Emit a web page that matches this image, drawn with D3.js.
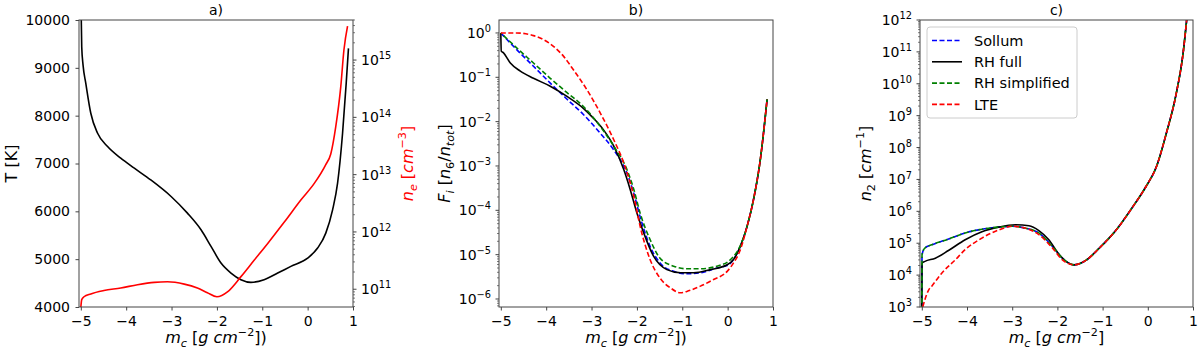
<!DOCTYPE html>
<html>
<head>
<meta charset="utf-8">
<script src="https://cdn.jsdelivr.net/npm/d3@7"></script>
<style>
body { margin: 0; background: #fff; }
text { font-family: "DejaVu Sans", sans-serif; fill: #000; }
</style>
</head>
<body>
<svg id="fig" width="1200" height="355"></svg>
<script>
// ---- panel a) temperature and electron density ----
const mcT = [-5.0, -4.98, -4.95, -4.89, -4.78, -4.63, -4.41, -4.12, -3.82, -3.46, -3.01, -2.65, -2.35, -2.13, -1.91, -1.69, -1.47, -1.25, -0.96, -0.66, -0.37, 0.0, 0.22, 0.40, 0.55, 0.66, 0.77, 0.85, 0.90];
const tempK = [10600, 9443, 9050, 8676, 8050, 7633, 7354, 7111, 6902, 6658, 6310, 5962, 5614, 5267, 4919, 4710, 4571, 4515, 4571, 4710, 4849, 5023, 5232, 5545, 6032, 6589, 7633, 8676, 9407];
const mcNe = [-5.0, -4.98, -4.93, -4.78, -4.49, -4.12, -3.75, -3.38, -3.09, -2.72, -2.43, -2.21, -2.0, -1.76, -1.47, -1.18, -0.88, -0.51, -0.15, 0.15, 0.40, 0.51, 0.62, 0.73, 0.80, 0.88];
const neDens = [4.8e10, 6.6e10, 7.4e10, 8.3e10, 9.5e10, 1.05e11, 1.2e11, 1.32e11, 1.35e11, 1.23e11, 1.05e11, 8.7e10, 7.4e10, 9.1e10, 1.66e11, 3.2e11, 6.3e11, 1.5e12, 3.6e12, 7.1e12, 1.5e13, 2.3e13, 6.9e13, 3.4e14, 1.5e15, 3.9e15];

// ---- panel b) ionisation fraction n6/ntot ----
const mcB_tail = [0.43, 0.57, 0.72, 0.87];
const fracTail = [4.4e-5, 1.74e-4, 1.38e-3, 3.2e-2];
const mcB_sollum = [-5.0, -4.65, -4.28, -3.91, -3.54, -3.18, -2.81, -2.51, -2.22, -2.07, -1.93, -1.71, -1.49, -1.19, -0.90, -0.60, -0.24, 0.02, 0.13, 0.28];
const fracSollum = [1.0, 0.42, 0.178, 0.074, 0.032, 0.0145, 0.0055, 0.0023, 6.9e-4, 2.45e-4, 7.2e-5, 1.55e-5, 6.5e-6, 4.2e-6, 3.7e-6, 3.9e-6, 5.0e-6, 5.9e-6, 7.8e-6, 1.55e-5];
const mcB_full = [-5.0, -4.99, -4.94, -4.79, -4.57, -4.28, -3.91, -3.54, -3.18, -2.96, -2.74, -2.51, -2.29, -2.15, -2.0, -1.85, -1.63, -1.34, -1.04, -0.75, -0.38, -0.01, 0.13, 0.28];
const fracFull = [1.0, 0.39, 0.355, 0.21, 0.138, 0.095, 0.063, 0.037, 0.020, 0.012, 0.0066, 0.0028, 8.3e-4, 3.0e-4, 8.7e-5, 3.1e-5, 9.1e-6, 4.6e-6, 3.9e-6, 3.9e-6, 4.6e-6, 5.9e-6, 7.8e-6, 1.55e-5];
const mcB_simp = [-5.0, -4.65, -4.28, -3.91, -3.54, -3.18, -2.81, -2.51, -2.22, -2.07, -1.93, -1.71, -1.49, -1.19, -0.90, -0.60, -0.24, 0.02, 0.13, 0.28];
const fracSimp = [1.0, 0.46, 0.21, 0.095, 0.045, 0.022, 0.0078, 0.0028, 8.3e-4, 3.0e-4, 8.7e-5, 2.2e-5, 8.3e-6, 5.5e-6, 4.8e-6, 4.8e-6, 5.5e-6, 7.1e-6, 9.1e-6, 1.6e-5];
const mcB_lte = [-5.0, -4.65, -4.28, -4.06, -3.84, -3.62, -3.40, -3.10, -2.81, -2.51, -2.29, -2.07, -1.93, -1.71, -1.49, -1.26, -1.04, -0.90, -0.60, -0.31, -0.01, 0.13, 0.28];
const fracLte = [1.0, 1.0, 0.87, 0.71, 0.50, 0.30, 0.148, 0.052, 0.0158, 0.0039, 0.00117, 2.1e-4, 4.4e-5, 7.8e-6, 2.95e-6, 1.78e-6, 1.38e-6, 1.48e-6, 1.95e-6, 2.75e-6, 4.2e-6, 6.5e-6, 1.29e-5];

// ---- panel c) n2 population ----
const mcC_tail = [-1.63, -1.37, -1.07, -0.70, -0.33, -0.04, 0.19, 0.41, 0.63, 0.78, 0.86, 0.93];
const n2Tail = [2.1e4, 2.9e4, 7.1e4, 2.6e5, 1.4e6, 6.0e6, 2.5e7, 2.8e8, 5.0e9, 8.9e10, 1.0e12, 1.0e13];
const mcC_sollum = [-5.0, -4.995, -4.93, -4.78, -4.41, -4.04, -3.67, -3.30, -3.0, -2.70, -2.41, -2.11, -1.89];
const n2Sollum = [1.0e3, 4.4e4, 7.1e4, 8.9e4, 1.35e5, 2.1e5, 2.75e5, 3.2e5, 3.4e5, 2.95e5, 2.1e5, 7.9e4, 3.4e4];
const mcC_full = [-5.0, -4.995, -4.93, -4.70, -4.41, -4.04, -3.67, -3.30, -2.93, -2.63, -2.41, -2.19, -1.96, -1.81];
const n2Full = [1.0e3, 2.4e4, 2.7e4, 3.4e4, 5.9e4, 1.29e5, 2.3e5, 3.2e5, 3.8e5, 3.55e5, 2.5e5, 1.29e5, 4.4e4, 2.7e4];
const mcC_simp = [-5.0, -4.995, -4.93, -4.78, -4.41, -4.04, -3.67, -3.30, -3.0, -2.70, -2.41, -2.11, -1.89];
const n2Simp = [1.0e3, 4.4e4, 7.1e4, 8.9e4, 1.35e5, 2.1e5, 2.75e5, 3.2e5, 3.4e5, 2.95e5, 2.1e5, 7.9e4, 3.4e4];
const mcC_lte = [-4.98, -4.85, -4.78, -4.56, -4.26, -4.04, -3.67, -3.30, -3.0, -2.70, -2.41, -2.11, -1.89];
const n2Lte = [1.0e3, 3.4e3, 4.5e3, 1.15e4, 3.0e4, 6.3e4, 1.45e5, 2.6e5, 3.4e5, 2.95e5, 1.86e5, 7.1e4, 3.0e4];

const legendNames = ["Sollum", "RH full", "RH simplified", "LTE"];
const legendColors = ["#0000ff", "#000000", "#008000", "#ff0000"];
const xTicks = [-5, -4, -3, -2, -1, 0, 1];
const tTicks = [4000, 5000, 6000, 7000, 8000, 9000, 10000];

const plotTop = 20, plotBottom = 307;
const spine = "#444";
const minus = s => String(s).replace("-", "\u2212");

const svg = d3.select("#fig");

function math(el, parts, size) {
    let shift = 0;
    parts.forEach(function(p) {
        const t = p[0], kind = p[1];
        let target = 0, fs = size;
        if (kind.includes("sub")) { target = size * 0.25; fs = size * 0.7; }
        if (kind.includes("sup")) { target = -size * 0.42; fs = size * 0.7; }
        const ts = el.append("tspan").text(t).attr("font-size", fs);
        if (target - shift != 0) ts.attr("dy", target - shift);
        shift = target;
        if (kind[0] == "i") ts.attr("font-style", "italic");
    });
}

function pair(xs, ys) { return xs.map((v, i) => [v, ys[i]]); }

function drawLine(g, data, x, y, color, dashed, offset) {
    const line = d3.line().x(d => x(d[0])).y(d => y(d[1])).curve(d3.curveMonotoneX);
    const p = g.append("path").datum(data)
        .attr("d", line)
        .attr("fill", "none")
        .attr("stroke", color)
        .attr("stroke-width", 1.6);
    if (dashed) p.attr("stroke-dasharray", "5,2.5").attr("stroke-dashoffset", offset || 0);
}

function xAxis(g, x) {
    const ax = g.append("g").attr("transform", "translate(0," + plotBottom + ")")
        .call(d3.axisBottom(x).tickValues(xTicks).tickSize(3.5).tickPadding(6).tickFormat(d => minus(d)));
    ax.select(".domain").remove();
    ax.selectAll("line").attr("stroke", spine);
    ax.selectAll("text").attr("font-size", 14).attr("font-family", "DejaVu Sans");
}

function logAxis(g, y, xpos, side) {
    const lo = y.domain()[0], hi = y.domain()[1];
    const e0 = Math.ceil(Math.log10(lo) - 1e-9), e1 = Math.floor(Math.log10(hi) + 1e-9);
    const majors = d3.range(e0, e1 + 1);
    const minors = [];
    for (let e = e0 - 1; e <= e1; e++) {
        for (let k = 2; k < 10; k++) {
            const v = k * Math.pow(10, e);
            if (v >= lo && v <= hi) minors.push(v);
        }
    }
    const dir = side == "left" ? -1 : 1;
    const ax = g.append("g");
    ax.selectAll(".maj").data(majors).enter().append("line")
        .attr("x1", xpos).attr("x2", xpos + dir * 3.5)
        .attr("y1", d => y(Math.pow(10, d))).attr("y2", d => y(Math.pow(10, d)))
        .attr("stroke", spine);
    ax.selectAll(".min").data(minors).enter().append("line")
        .attr("x1", xpos).attr("x2", xpos + dir * 2)
        .attr("y1", d => y(d)).attr("y2", d => y(d))
        .attr("stroke", spine).attr("stroke-width", 0.7);
    majors.forEach(function(e) {
        const t = ax.append("text")
            .attr("x", xpos + dir * 8)
            .attr("y", y(Math.pow(10, e)))
            .attr("dy", "0.36em")
            .attr("font-size", 14)
            .attr("text-anchor", side == "left" ? "end" : "start");
        math(t, [["10", "r"], [minus(e), "rsup"]], 14);
    });
}

function frame(g, x) {
    g.append("rect")
        .attr("x", x.range()[0]).attr("y", plotTop)
        .attr("width", x.range()[1] - x.range()[0]).attr("height", plotBottom - plotTop)
        .attr("fill", "none").attr("stroke", spine).attr("stroke-width", 1);
}

function clip(id, x) {
    svg.append("clipPath").attr("id", id).append("rect")
        .attr("x", x.range()[0]).attr("y", plotTop)
        .attr("width", x.range()[1] - x.range()[0]).attr("height", plotBottom - plotTop);
}

function title(x, txt) {
    svg.append("text").attr("x", (x.range()[0] + x.range()[1]) / 2).attr("y", 15)
        .attr("text-anchor", "middle").attr("font-size", 14).text(txt);
}

function xLabel(x, paren) {
    const t = svg.append("text").attr("x", (x.range()[0] + x.range()[1]) / 2).attr("y", 343)
        .attr("text-anchor", "middle").attr("font-size", 16);
    math(t, [["m", "i"], ["c", "isub"], [" [", "r"], ["g cm", "i"], ["\u22122", "rsup"], [paren ? "])" : "]", "r"]], 16);
}

function yLabel(xpos, parts, color) {
    const t = svg.append("text")
        .attr("transform", "translate(" + xpos + "," + ((plotTop + plotBottom) / 2) + ") rotate(-90)")
        .attr("text-anchor", "middle").attr("font-size", 16);
    t.style("fill", color);
    math(t, parts, 16);
}

// ---------- panel a ----------
const xa = d3.scaleLinear().domain([-5.04, 1]).range([79, 353]);
const ya = d3.scaleLinear().domain([4000, 10000]).range([plotBottom, plotTop]);
const yaR = d3.scaleLog().domain([4.9e10, 5.0e15]).range([plotBottom, plotTop]);
clip("clipA", xa);
const ga = svg.append("g");
const gaLines = ga.append("g").attr("clip-path", "url(#clipA)");
drawLine(gaLines, pair(mcT, tempK), xa, ya, "#000", false);
drawLine(gaLines, pair(mcNe, neDens), xa, yaR, "#ff0000", false);
frame(ga, xa);
xAxis(ga, xa);
const axA = ga.append("g").attr("transform", "translate(79,0)")
    .call(d3.axisLeft(ya).tickValues(tTicks).tickSize(3.5).tickPadding(5.5).tickFormat(d3.format("d")));
axA.select(".domain").remove();
axA.selectAll("line").attr("stroke", spine);
axA.selectAll("text").attr("font-size", 14).attr("font-family", "DejaVu Sans");
logAxis(ga, yaR, 353, "right");
title(xa, "a)");
xLabel(xa, true);
yLabel(17, [["T [K]", "r"]], "#000");
yLabel(413, [["n", "i"], ["e", "isub"], [" [", "r"], ["cm", "i"], ["\u22123", "rsup"], ["]", "r"]], "#ff0000");

// ---------- panel b ----------
const xb = d3.scaleLinear().domain([-5.04, 1]).range([499, 773]);
const yb = d3.scaleLog().domain([6.6e-7, 1.96]).range([plotBottom, plotTop]);
clip("clipB", xb);
const gb = svg.append("g");
const gbLines = gb.append("g").attr("clip-path", "url(#clipB)");
drawLine(gbLines, pair(mcB_sollum.concat(mcB_tail), fracSollum.concat(fracTail)), xb, yb, legendColors[0], true);
drawLine(gbLines, pair(mcB_full.concat(mcB_tail), fracFull.concat(fracTail)), xb, yb, legendColors[1], false);
drawLine(gbLines, pair(mcB_simp.concat(mcB_tail), fracSimp.concat(fracTail)), xb, yb, legendColors[2], true, 3.7);
drawLine(gbLines, pair(mcB_lte.concat(mcB_tail), fracLte.concat(fracTail)), xb, yb, legendColors[3], true);
frame(gb, xb);
xAxis(gb, xb);
logAxis(gb, yb, 499, "left");
title(xb, "b)");
xLabel(xb, true);
yLabel(450, [["F", "i"], ["i", "isub"], [" [", "r"], ["n", "i"], ["6", "rsub"], ["/", "r"], ["n", "i"], ["tot", "isub"], ["]", "r"]], "#000");

// ---------- panel c ----------
const xc = d3.scaleLinear().domain([-5.04, 1]).range([920, 1193]);
const yc = d3.scaleLog().domain([1e3, 1e12]).range([plotBottom, plotTop]);
clip("clipC", xc);
const gc = svg.append("g");
const gcLines = gc.append("g").attr("clip-path", "url(#clipC)");
drawLine(gcLines, pair(mcC_sollum.concat(mcC_tail), n2Sollum.concat(n2Tail)), xc, yc, legendColors[0], true);
drawLine(gcLines, pair(mcC_full.concat(mcC_tail), n2Full.concat(n2Tail)), xc, yc, legendColors[1], false);
drawLine(gcLines, pair(mcC_simp.concat(mcC_tail), n2Simp.concat(n2Tail)), xc, yc, legendColors[2], true, 3.7);
drawLine(gcLines, pair(mcC_lte.concat(mcC_tail), n2Lte.concat(n2Tail)), xc, yc, legendColors[3], true);
frame(gc, xc);
xAxis(gc, xc);
logAxis(gc, yc, 920, "left");
title(xc, "c)");
xLabel(xc, false);
yLabel(871, [["n", "i"], ["2", "rsub"], [" [", "r"], ["cm", "i"], ["\u22121", "rsup"], ["]", "r"]], "#000");

// legend
const leg = gc.append("g").attr("transform", "translate(927,27)");
leg.append("rect").attr("width", 150).attr("height", 91).attr("rx", 3)
    .attr("fill", "#fff").attr("fill-opacity", 0.8).attr("stroke", "#ccc");
legendNames.forEach(function(name, i) {
    const yy = 13.5 + i * 21.3;
    const l = leg.append("line").attr("x1", 5).attr("x2", 35).attr("y1", yy).attr("y2", yy)
        .attr("stroke", legendColors[i]).attr("stroke-width", 1.6);
    if (i != 1) l.attr("stroke-dasharray", "5,2.5");
    leg.append("text").attr("x", 47).attr("y", yy).attr("dy", "0.36em")
        .attr("font-size", 14.5).text(name);
});
</script>
</body>
</html>
